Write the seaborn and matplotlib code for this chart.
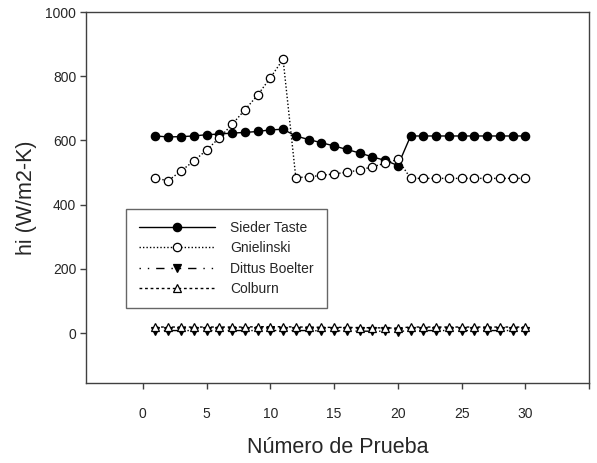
import numpy as np
import pandas as pd
import matplotlib
matplotlib.use("Agg")
import matplotlib.pyplot as plt
import seaborn as sns

prueba = list(range(1, 31))
sieder_taste = [614, 611, 612, 614, 618, 620, 623, 625, 628, 633, 635,
                614, 603, 593, 583, 572, 561, 549, 538, 522,
                614, 614, 614, 614, 614, 614, 614, 614, 614, 614]
gnielinski = [482, 475, 505, 536, 570, 608, 650, 695, 741, 795, 853,
              484, 487, 491, 496, 501, 508, 518, 529, 541,
              482, 482, 482, 482, 482, 482, 482, 482, 482, 482]
dittus_boelter = [8, 8, 8, 8, 8, 8, 8, 8, 8, 8, 8,
                  8, 8, 7, 7, 7, 6, 6, 6, 5,
                  8, 8, 8, 8, 8, 8, 8, 8, 8, 8]
colburn = [19, 19, 19, 19, 19, 19, 19, 19, 20, 20, 20,
           19, 19, 18, 18, 18, 17, 17, 16, 16,
           19, 19, 19, 19, 19, 19, 19, 19, 19, 19]
series_names = ["Sieder Taste", "Gnielinski", "Dittus Boelter", "Colburn"]
x_ticks = [0, 5, 10, 15, 20, 25, 30, 35]
y_ticks = [0, 200, 400, 600, 800, 1000]

sns.set_style("white")
plt.rcParams["font.family"] = ["Liberation Sans", "DejaVu Sans"]

fig = plt.figure(figsize=(5.97, 4.63), dpi=100)
ax = fig.add_axes([0.144, 0.173, 0.843, 0.801])

styles = {
    "Sieder Taste": dict(marker="o", mfc="black", ls="-", values=sieder_taste),
    "Gnielinski": dict(marker="o", mfc="white", ls=(0, (1, 1.5)), values=gnielinski),
    "Dittus Boelter": dict(marker="v", mfc="black", ls=(0, (1, 5, 1, 5, 6, 5)), values=dittus_boelter),
    "Colburn": dict(marker="^", mfc="white", ls=(0, (2, 2)), values=colburn),
}

for name in series_names:
    st = styles[name]
    df = pd.DataFrame({"x": prueba, "y": st["values"]})
    sns.lineplot(data=df, x="x", y="y", ax=ax, color="black", lw=1.0,
                 linestyle=st["ls"], marker=st["marker"], markersize=6,
                 markerfacecolor=st["mfc"], markeredgecolor="black",
                 markeredgewidth=0.9, label=name)

ax.set_xlim(-4.45, 35)
ax.set_ylim(-155, 1000)
ax.set_xticks(x_ticks)
ax.set_xticklabels(["0", "5", "10", "15", "20", "25", "30", ""])
ax.set_yticks(y_ticks)
ax.tick_params(axis="both", which="both", direction="out", length=4, width=1,
               color="#404040", labelsize=10, bottom=True, left=True,
               top=False, right=False)
ax.tick_params(axis="x", pad=13)
ax.tick_params(axis="y", pad=3)
for sp in ax.spines.values():
    sp.set_color("#404040")
    sp.set_linewidth(1.0)
ax.set_xlabel("Número de Prueba", fontsize=15.5, labelpad=12)
ax.set_ylabel("hi (W/m2-K)", fontsize=15.5, labelpad=6)

leg = ax.legend(loc="upper left", bbox_to_anchor=(0.08, 0.47), handlelength=5.5,
                numpoints=1, fontsize=10, frameon=True, fancybox=False,
                borderpad=0.9, labelspacing=0.45, handletextpad=1.1,
                borderaxespad=0)
leg.get_frame().set_edgecolor("#404040")
leg.get_frame().set_linewidth(1.0)

fig.savefig("out.png", dpi=100)
